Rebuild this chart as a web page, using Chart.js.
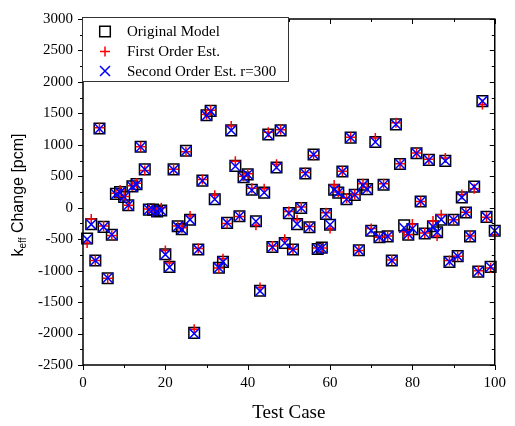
<!DOCTYPE html>
<html>
<head>
<meta charset="utf-8">
<script src="https://cdn.jsdelivr.net/npm/chart.js@4/dist/chart.umd.min.js"></script>
<style>
html,body{margin:0;padding:0;background:#fff;}
canvas{display:block;}
</style>
</head>
<body>
<canvas id="c" width="515" height="426"></canvas>
<script>
const testCase = [1,2,3,4,5,6,7,8,9,10,11,12,13,14,15,16,17,18,19,20,21,22,23,24,25,26,27,28,29,30,31,32,33,34,35,36,37,38,39,40,41,42,43,44,45,46,47,48,49,50,51,52,53,54,55,56,57,58,59,60,61,62,63,64,65,66,67,68,69,70,71,72,73,74,75,76,77,78,79,80,81,82,83,84,85,86,87,88,89,90,91,92,93,94,95,96,97,98,99,100];

const originalModel = [-490,-260,-840,1260,-305,-1120,-430,220,250,170,40,340,375,970,610,-30,-30,-60,-45,-740,-940,610,-295,-340,905,-190,-1990,-665,430,1470,1540,135,-955,-860,-240,1230,665,-135,485,530,285,-215,-1320,240,1165,-625,640,1230,-560,-85,-665,-260,-5,545,-310,845,-655,-635,-100,-270,285,240,575,135,1115,205,-675,365,295,-365,1045,-470,365,-455,-840,1325,695,-280,-430,-340,865,100,-410,760,-295,-390,-190,745,-860,-190,-770,165,-75,-455,335,-1015,1695,-145,-940,-365];

const firstOrder = [-560,-180,-840,1270,-290,-1120,-440,230,280,180,40,350,390,970,590,-20,-30,-40,0,-680,-880,610,-290,-320,890,-130,-1930,-650,450,1480,1550,200,-960,-810,-250,1300,740,-140,500,540,310,-280,-1270,300,1200,-610,690,1240,-500,-60,-660,-190,10,560,-300,830,-640,-640,-80,-330,360,250,580,150,1120,210,-680,380,320,-330,1110,-470,380,-450,-830,1350,700,-380,-430,-260,870,100,-400,770,-210,-450,-110,790,-840,-190,-770,210,-70,-450,300,-1000,1640,-150,-960,-430];

const secondOrder = [-500,-265,-840,1255,-305,-1115,-430,215,245,170,40,335,370,965,610,-30,-30,-60,-45,-745,-945,605,-300,-345,900,-190,-2000,-665,430,1465,1535,135,-955,-860,-240,1230,660,-135,480,530,280,-215,-1325,240,1160,-625,640,1230,-560,-85,-665,-260,-5,545,-310,845,-655,-640,-100,-270,285,240,575,135,1115,205,-675,360,295,-365,1045,-470,365,-455,-840,1325,695,-320,-420,-330,865,100,-410,760,-300,-390,-190,745,-860,-190,-770,165,-75,-455,335,-1015,1695,-145,-940,-365];

const xTickValues = [0,20,40,60,80,100];
const xMinorTicks = [10,30,50,70,90];
const yTickValues = [-2500,-2000,-1500,-1000,-500,0,500,1000,1500,2000,2500,3000];
const yMinorTicks = [-2250,-1750,-1250,-750,-250,250,750,1250,1750,2250,2750];

const seriesNames = ['Original Model','First Order Est.','Second Order Est. r=300'];

const serif = '"Liberation Serif", "Times New Roman", serif';
const sans = '"Liberation Sans", Arial, sans-serif';

function pts(vals){ return testCase.map((t,i)=>({x:t,y:vals[i]})); }

function drawSym(ctx, kind, x, y){
  ctx.save();
  ctx.lineWidth = 1.5;
  ctx.beginPath();
  if (kind === 0){
    ctx.strokeStyle = '#000';
    const s = 5.3;
    ctx.rect(x-s, y-s, 2*s, 2*s);
  } else if (kind === 1){
    ctx.strokeStyle = '#ff0000';
    const r = 5;
    ctx.moveTo(x-r,y); ctx.lineTo(x+r,y);
    ctx.moveTo(x,y-r); ctx.lineTo(x,y+r);
  } else {
    ctx.strokeStyle = '#0000ff';
    const r = 5;
    ctx.moveTo(x-r,y-r); ctx.lineTo(x+r,y+r);
    ctx.moveTo(x-r,y+r); ctx.lineTo(x+r,y-r);
  }
  ctx.stroke();
  ctx.restore();
}

const decor = {
  id:'decor',
  afterDraw(chart){
    const {ctx, chartArea:a, scales:{x, y}} = chart;
    ctx.save();
    ctx.strokeStyle = '#000';
    ctx.lineWidth = 1.5;
    ctx.strokeRect(a.left, a.top, a.right-a.left, a.bottom-a.top);
    ctx.lineWidth = 1;
    ctx.beginPath();
    const tick = (vals, len) => {
      vals.forEach(v=>{
        const py = Math.round(y.getPixelForValue(v)) + 0.5;
        ctx.moveTo(a.left - len, py); ctx.lineTo(a.left, py);
        ctx.moveTo(a.right, py); ctx.lineTo(a.right - len, py);
      });
    };
    const xtick = (vals, len) => {
      vals.forEach(v=>{
        const px = Math.round(x.getPixelForValue(v)) + 0.5;
        ctx.moveTo(px, a.bottom); ctx.lineTo(px, a.bottom + len);
        ctx.moveTo(px, a.top); ctx.lineTo(px, a.top + len);
      });
    };
    tick(yTickValues, 5); tick(yMinorTicks, 3);
    xtick(xTickValues, 5); xtick(xMinorTicks, 3);
    ctx.stroke();

    // legend
    const lx = 82, ly = 17.5, lw = 206, lh = 64;
    ctx.fillStyle = '#fff';
    ctx.fillRect(lx, ly, lw, lh);
    ctx.strokeStyle = '#333';
    ctx.lineWidth = 1;
    ctx.strokeRect(lx+0.5, ly, lw, lh);
    const rows = [31.5, 51.5, 71];
    ctx.fillStyle = '#000';
    ctx.font = '15px ' + serif;
    ctx.textBaseline = 'middle';
    ctx.textAlign = 'left';
    rows.forEach((ry,i)=>{
      drawSym(ctx, i, 105, ry);
      ctx.fillText(seriesNames[i], 127, ry+1);
    });

    // x title
    ctx.textAlign = 'center';
    ctx.textBaseline = 'alphabetic';
    ctx.font = '19px ' + serif;
    ctx.fillText('Test Case', (a.left+a.right)/2, 418);

    // y title
    ctx.save();
    ctx.translate(17, (a.top + a.bottom)/2 + 3);
    ctx.rotate(-Math.PI/2);
    const f1 = '16px ' + sans, f2 = '10px ' + sans;
    ctx.font = f1; const wk = ctx.measureText('k').width;
    const rest = ' Change [pcm]'; const wr = ctx.measureText(rest).width;
    ctx.font = f2; const we = ctx.measureText('eff').width;
    const total = wk + we + wr;
    let cx = -total/2;
    ctx.textAlign = 'left';
    ctx.font = f1; ctx.fillText('k', cx, 6); cx += wk;
    ctx.font = f2; ctx.fillText('eff', cx, 9); cx += we;
    ctx.font = f1; ctx.fillText(rest, cx, 6);
    ctx.restore();

    ctx.restore();
  }
};

new Chart(document.getElementById('c'), {
  type:'scatter',
  data:{
    datasets:[
      {label:seriesNames[0], data:pts(originalModel), pointStyle:'rect', radius:7.5, borderColor:'#000', backgroundColor:'rgba(0,0,0,0)', borderWidth:1.5, order:3, clip:false},
      {label:seriesNames[1], data:pts(firstOrder), pointStyle:'cross', radius:5, borderColor:'#ff0000', backgroundColor:'#ff0000', borderWidth:1.5, order:2, clip:false},
      {label:seriesNames[2], data:pts(secondOrder), pointStyle:'crossRot', radius:7, borderColor:'#0000ff', backgroundColor:'#0000ff', borderWidth:1.5, order:1, clip:false}
    ]
  },
  options:{
    responsive:false,
    animation:false,
    devicePixelRatio:1,
    layout:{padding:{top:17,right:12,left:0,bottom:0}},
    plugins:{legend:{display:false}, tooltip:{enabled:false}},
    elements:{point:{hoverRadius:7}},
    scales:{
      x:{
        type:'linear', min:0, max:100,
        afterBuildTicks(s){ s.ticks = xTickValues.map(v=>({value:v})); },
        afterFit(s){ s.height = 61; },
        grid:{display:false, drawTicks:false},
        border:{display:false},
        ticks:{color:'#000', font:{family:serif, size:15}, padding:9, maxRotation:0, callback:v=>String(v)}
      },
      y:{
        type:'linear', min:-2500, max:3000,
        afterBuildTicks(s){ s.ticks = yTickValues.map(v=>({value:v})); },
        afterFit(s){ s.width = 83; },
        grid:{display:false, drawTicks:false},
        border:{display:false},
        ticks:{color:'#000', font:{family:serif, size:15}, padding:10, callback:v=>String(v)}
      }
    }
  },
  plugins:[decor]
});
</script>
</body>
</html>
